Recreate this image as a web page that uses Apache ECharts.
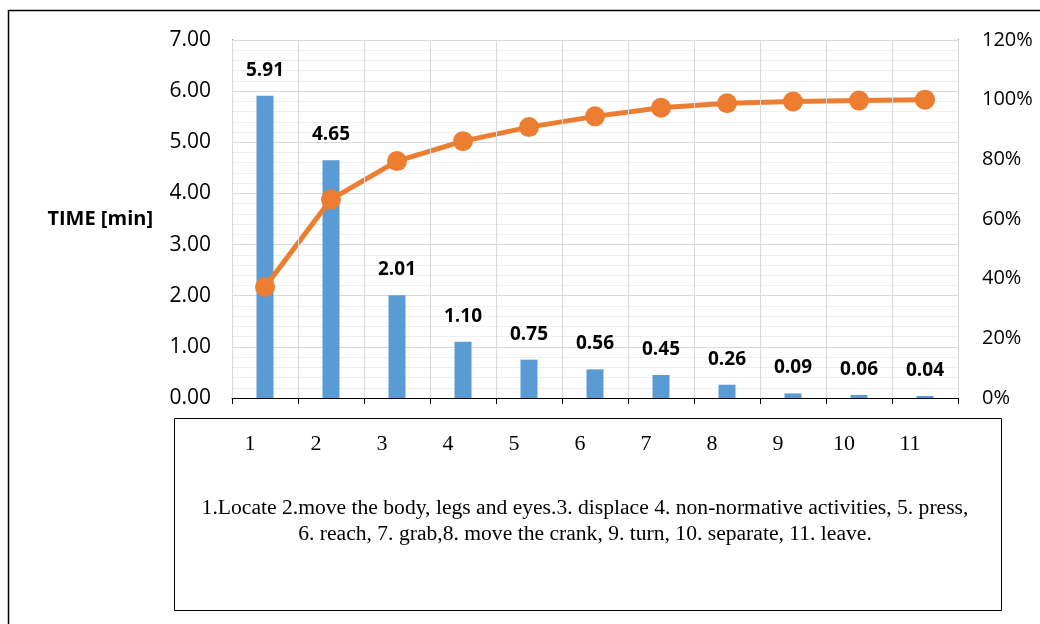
<!DOCTYPE html>
<html>
<head>
<meta charset="utf-8">
<script src="https://cdn.jsdelivr.net/npm/echarts@6/dist/echarts.min.js"></script>
<style>html,body{margin:0;padding:0;background:#fff}#c{width:1040px;height:624px}</style>
</head>
<body>
<div id="c"></div>
<script>
const categories = ['1','2','3','4','5','6','7','8','9','10','11'];
const timeValues = [5.91, 4.65, 2.01, 1.10, 0.75, 0.56, 0.45, 0.26, 0.09, 0.06, 0.04];
const cumulativePct = [37.2, 66.6, 79.4, 86.1, 90.8, 94.4, 97.3, 98.8, 99.4, 99.7, 100];
const leftTicks = {min: 0, max: 7, interval: 1};
const rightTicks = {min: 0, max: 120, interval: 20};
const yAxisName = 'TIME [min]';
const legendText = ['1.Locate 2.move the body, legs and eyes.3. displace 4. non-normative activities, 5. press,',
                    '6. reach, 7. grab,8. move the crank, 9. turn, 10. separate, 11. leave.'];

const chart = echarts.init(document.getElementById('c'), null, {renderer: 'canvas'});
const sans = '"Open Sans", "Noto Sans", sans-serif';
const serif = '"Liberation Serif", serif';
chart.setOption({
  animation: false,
  backgroundColor: '#fff',
  grid: {left: 232, right: 82, top: 40, bottom: 226},
  graphic: [
    {type: 'rect', shape: {x: 8.5, y: 10.5, width: 1100, height: 700}, style: {fill: 'none', stroke: '#000', lineWidth: 1.5}, z: 0},
    {type: 'rect', shape: {x: 174.5, y: 418.5, width: 827, height: 192}, style: {fill: '#fff', stroke: '#000', lineWidth: 1}, z: 1},
    {type: 'text', x: 585, y: 508, style: {text: legendText[0], font: '21.6px ' + serif, fill: '#000', align: 'center', verticalAlign: 'middle'}, z: 2},
    {type: 'text', x: 585, y: 534, style: {text: legendText[1], font: '21.6px ' + serif, fill: '#000', align: 'center', verticalAlign: 'middle'}, z: 2}
  ],
  xAxis: {
    type: 'category',
    data: categories,
    boundaryGap: true,
    axisLine: {show: true, lineStyle: {color: '#000', width: 1}},
    axisTick: {show: true, length: 6, inside: false, lineStyle: {color: '#000'}},
    splitLine: {show: true, lineStyle: {color: '#d9d9d9', width: 1}},
    axisLabel: {margin: 35, fontFamily: serif, fontSize: 22, color: '#000', padding: [0, 30, 0, 0]},
    z: 5
  },
  yAxis: [
    {
      type: 'value', min: leftTicks.min, max: leftTicks.max, interval: leftTicks.interval,
      name: yAxisName, nameLocation: 'middle', nameRotate: 0, nameGap: 79,
      nameTextStyle: {fontFamily: sans, fontWeight: 'bold', fontSize: 20, color: '#000', align: 'right'},
      axisLine: {show: true, lineStyle: {color: '#000'}},
      axisTick: {show: false},
      axisLabel: {margin: 21, fontFamily: sans, fontSize: 21, color: '#000', formatter: v => v.toFixed(2)},
      splitLine: {show: true, lineStyle: {color: '#d9d9d9'}},
      minorTick: {show: false, splitNumber: 5},
      minorSplitLine: {show: true, lineStyle: {color: '#efefef'}}
    },
    {
      type: 'value', min: rightTicks.min, max: rightTicks.max, interval: rightTicks.interval,
      position: 'right',
      axisLine: {show: true, lineStyle: {color: '#000'}},
      axisTick: {show: false},
      axisLabel: {margin: 24, fontFamily: sans, fontSize: 20, color: '#000', formatter: '{value}%'},
      splitLine: {show: false}
    }
  ],
  series: [
    {
      type: 'bar', data: timeValues, yAxisIndex: 0, barWidth: 17,
      itemStyle: {color: '#5B9BD5'},
      label: {show: true, position: 'top', distance: 16, fontFamily: sans, fontWeight: 'bold', fontSize: 19, color: '#000', formatter: p => p.value.toFixed(2)},
      z: 3
    },
    {
      type: 'line', data: cumulativePct, yAxisIndex: 1,
      symbol: 'circle', symbolSize: 20,
      lineStyle: {color: '#ED7D31', width: 5},
      itemStyle: {color: '#ED7D31'},
      z: 4
    }
  ]
});
</script>
</body>
</html>
